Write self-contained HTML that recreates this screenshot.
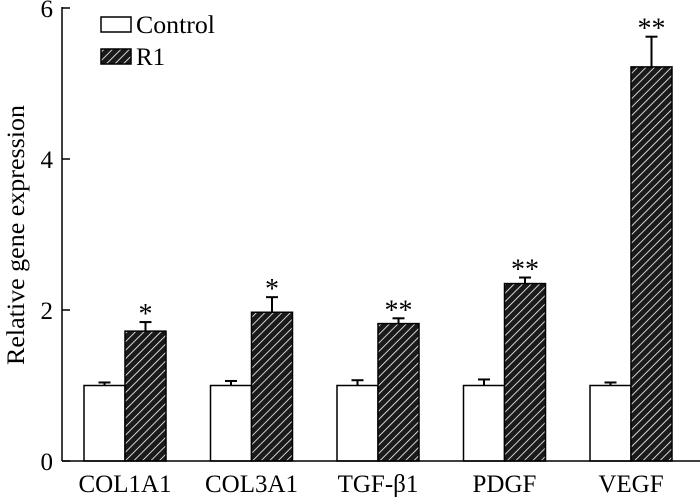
<!DOCTYPE html>
<html><head><meta charset="utf-8"><style>
body{margin:0;background:#fff}
svg{display:block;font-family:"Liberation Serif",serif}
</style></head><body>
<svg id="chart" width="700" height="497" viewBox="0 0 700 497">
<defs>
<pattern id="hatch" patternUnits="userSpaceOnUse" width="6" height="6" patternTransform="rotate(45)">
<rect width="6" height="6" fill="#1a1a1a"/>
<line x1="0" y1="0" x2="0" y2="6" stroke="#fff" stroke-width="1.6"/>
</pattern>
</defs>
<g id="marks"></g>
<g id="axes"></g>
<text x="24" y="235" font-size="25" text-anchor="middle" textLength="260" lengthAdjust="spacingAndGlyphs" transform="rotate(-90 24 235)">Relative gene expression</text>
<g>
<rect x="101" y="17" width="30" height="15" fill="#fff" stroke="#000" stroke-width="1.5"/>
<text x="136" y="33" font-size="25" textLength="79" lengthAdjust="spacingAndGlyphs">Control</text>
<rect x="101" y="49" width="30" height="15" fill="url(#hatch)" stroke="#000" stroke-width="1.5"/>
<text x="136" y="65" font-size="25">R1</text>
</g>
</svg>
<script>
const categories=["COL1A1","COL3A1","TGF-β1","PDGF","VEGF"];
const controlValues=[1.0,1.0,1.0,1.0,1.0];
const controlErrors=[0.04,0.06,0.07,0.08,0.04];
const r1Values=[1.72,1.97,1.82,2.35,5.22];
const r1Errors=[0.12,0.2,0.07,0.08,0.4];
const significance=["*","*","**","**","**"];
const yTicks=[0,2,4,6];

const NS="http://www.w3.org/2000/svg";
const y0=461, yTop=8, yMax=6;
const yScale=v=>y0-(v/yMax)*(y0-yTop);
const groupX=i=>84+i*126.5;
const bw=41;
const marks=document.getElementById('marks');
const axes=document.getElementById('axes');
function mk(tag,attrs,parent){const e=document.createElementNS(NS,tag);for(const k in attrs)e.setAttribute(k,attrs[k]);parent.appendChild(e);return e;}

categories.forEach((c,i)=>{
  const x=groupX(i);
  const yc=yScale(controlValues[i]);
  const ec=mk('line',{x1:x+bw/2,x2:x+bw/2,y1:yc,y2:yScale(controlValues[i]+controlErrors[i]),stroke:'#000','stroke-width':2},marks);
  
  
  const cc=mk('line',{x1:x+bw/2-6,x2:x+bw/2+6,y1:yScale(controlValues[i]+controlErrors[i]),y2:yScale(controlValues[i]+controlErrors[i]),stroke:'#000','stroke-width':2},marks);
  
  
  const b1=mk('rect',{x:x,y:yc,width:bw,height:y0-yc,fill:'#fff',stroke:'#000','stroke-width':1.5},marks);
  
  
  const x2=x+bw, yr=yScale(r1Values[i]), ye=yScale(r1Values[i]+r1Errors[i]);
  const er=mk('line',{x1:x2+bw/2,x2:x2+bw/2,y1:yr,y2:ye,stroke:'#000','stroke-width':2},marks);
  
  
  const cr=mk('line',{x1:x2+bw/2-6,x2:x2+bw/2+6,y1:ye,y2:ye,stroke:'#000','stroke-width':2},marks);
  
  
  const b2=mk('rect',{x:x2,y:yr,width:bw,height:y0-yr,fill:'url(#hatch)',stroke:'#000','stroke-width':1.5},marks);
  
  
  const s=mk('text',{x:x2+bw/2,y:ye+1,'font-size':28,'text-anchor':'middle'},marks);
  s.textContent=significance[i];
  
  
  const l=mk('text',{x:x+bw,y:y0+31,'font-size':25,'text-anchor':'middle'},axes);
  l.textContent=c;
  
  
});
const ya=mk('line',{x1:62,x2:62,y1:yTop-1,y2:y0,stroke:'#000','stroke-width':1.5},axes);


const xa=mk('line',{x1:62,x2:700,y1:y0,y2:y0,stroke:'#000','stroke-width':1.5},axes);


yTicks.forEach(t=>{
  const y=yScale(t);
  const tk=mk('line',{x1:62,x2:70,y1:y,y2:y,stroke:'#000','stroke-width':1.5},axes);
  
  
  const tl=mk('text',{x:53,y:y+9,'font-size':25,'text-anchor':'end'},axes);
  tl.textContent=t;
  
  
});
</script>
</body></html>
